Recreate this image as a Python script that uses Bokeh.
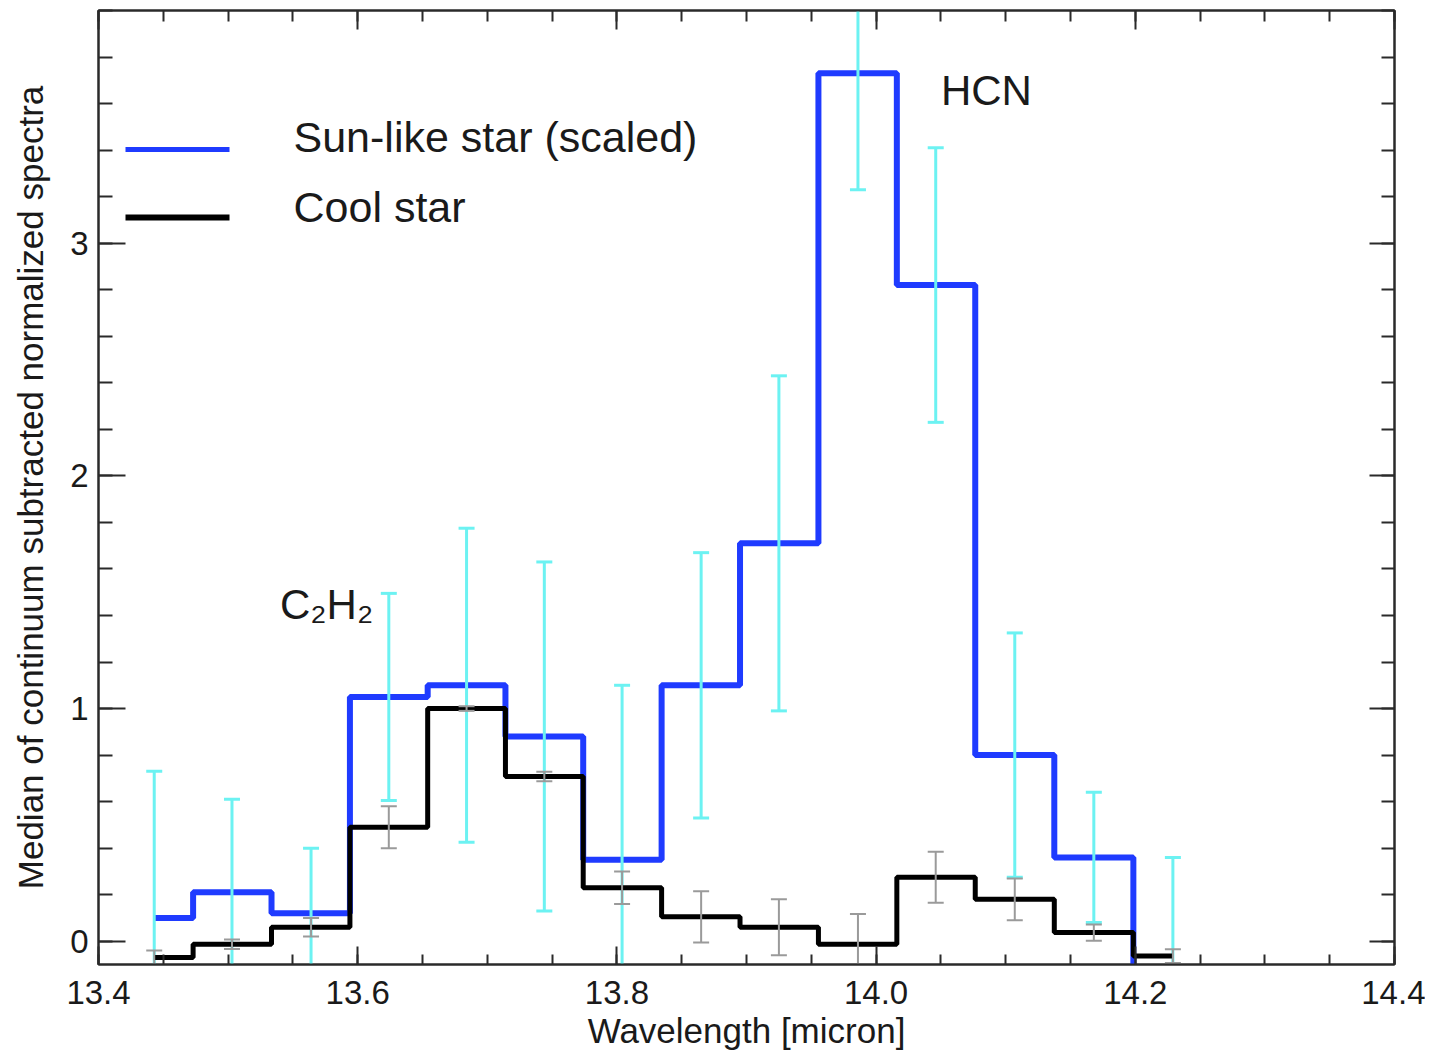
import numpy as np
from bokeh.plotting import figure
from bokeh.models import (FixedTicker, LinearAxis, Range1d, ColumnDataSource,
                          Label, BoxAnnotation)
from bokeh.embed import file_html
from bokeh.resources import INLINE

# ---------------- data ----------------
wavelength = [13.443, 13.503, 13.564, 13.624, 13.684, 13.744, 13.804,
              13.865, 13.925, 13.986, 14.046, 14.107, 14.168, 14.229]
sun_like = [0.10, 0.21, 0.12, 1.05, 1.10, 0.88, 0.35,
            1.10, 1.71, 3.73, 2.82, 0.80, 0.36, -0.15]
sun_like_err = [0.63, 0.40, 0.28, 0.445, 0.675, 0.75, 0.75,
                0.57, 0.72, 0.50, 0.59, 0.525, 0.28, 0.51]
cool_star = [-0.07, -0.013, 0.06, 0.49, 1.00, 0.708, 0.23,
             0.105, 0.06, -0.013, 0.275, 0.18, 0.037, -0.064]
cool_star_err = [0.03, 0.02, 0.04, 0.09, 0.01, 0.02, 0.07,
                 0.11, 0.12, 0.13, 0.11, 0.09, 0.035, 0.03]

x_ticks = [13.4, 13.6, 13.8, 14.0, 14.2, 14.4]
x_tick_labels = ["13.4", "13.6", "13.8", "14.0", "14.2", "14.4"]
y_ticks = [0, 1, 2, 3]
y_tick_labels = ["0", "1", "2", "3"]

series_names = ["Sun-like star (scaled)", "Cool star"]

# ---------------- styles ----------------
BLUE = "#1f3bff"
CYAN = "#6cf2f2"
GRAY = "#9a9a9a"
AX = "#2a2a2a"
TXT = "#1a1a1a"
FONT = "Liberation Sans"

sun = np.array(sun_like)
sun_e = np.array(sun_like_err)
cool = np.array(cool_star)
cool_e = np.array(cool_star_err)

src = ColumnDataSource(dict(
    x=wavelength, sun=sun_like, cool=cool_star,
    sun_lo=list(sun - sun_e), sun_hi=list(sun + sun_e),
    cool_lo=list(cool - cool_e), cool_hi=list(cool + cool_e),
))

p = figure(width=1425, height=1052,
           x_range=Range1d(13.4, 14.4), y_range=Range1d(-0.1, 4.0),
           output_backend="svg", toolbar_location=None,
           min_border_left=98, min_border_top=10,
           min_border_right=31, min_border_bottom=87)
p.grid.visible = False
p.outline_line_color = AX
p.outline_line_width = 2
p.background_fill_color = "white"
p.border_fill_color = "white"

# steps
p.step("x", "sun", source=src, mode="center", line_color=BLUE, line_width=6)
# cyan error bars
p.segment("x", "sun_lo", "x", "sun_hi", source=src, line_color=CYAN,
          line_width=3)
p.scatter("x", "sun_hi", source=src, marker="dash", size=16,
          line_color=CYAN, line_width=3)
p.scatter("x", "sun_lo", source=src, marker="dash", size=16,
          line_color=CYAN, line_width=3)

p.step("x", "cool", source=src, mode="center", line_color="black",
       line_width=5)
# gray error bars
p.segment("x", "cool_lo", "x", "cool_hi", source=src, line_color=GRAY,
          line_width=2)
p.scatter("x", "cool_hi", source=src, marker="dash", size=16,
          line_color=GRAY, line_width=2)
p.scatter("x", "cool_lo", source=src, marker="dash", size=16,
          line_color=GRAY, line_width=2)

# ---------------- axes ----------------
x_minor = list(np.round(np.arange(13.4, 14.4001, 0.05), 3))
y_minor = list(np.round(np.arange(0.0, 4.0001, 0.2), 3))
xt = FixedTicker(ticks=x_ticks, minor_ticks=x_minor)
yt = FixedTicker(ticks=y_ticks, minor_ticks=y_minor)

xa = p.xaxis[0]
xa.ticker = xt
xa.major_label_overrides = {t: s for t, s in zip(x_ticks, x_tick_labels)}
xa.axis_label = "Wavelength [micron]"

ya = p.yaxis[0]
ya.ticker = yt
ya.major_label_overrides = {t: s for t, s in zip(y_ticks, y_tick_labels)}
ya.axis_label = "Median of continuum subtracted normalized spectra"

for ax, maj, mn in ((xa, 18, 10), (ya, 27, 14)):
    ax.major_tick_in = maj
    ax.major_tick_out = 0
    ax.minor_tick_in = mn
    ax.minor_tick_out = 0
    ax.axis_line_color = AX
    ax.axis_line_width = 2
    ax.major_tick_line_color = AX
    ax.minor_tick_line_color = AX
    ax.major_tick_line_width = 2
    ax.minor_tick_line_width = 2
    ax.major_label_text_font = FONT
    ax.major_label_text_font_size = "33px"
    ax.major_label_text_color = TXT
    ax.axis_label_text_font = FONT
    ax.axis_label_text_font_size = "35px"
    ax.axis_label_text_font_style = "normal"
    ax.axis_label_text_color = TXT

xa.major_label_standoff = 16
xa.axis_label_standoff = 4
ya.major_label_standoff = 10
ya.axis_label_standoff = 17

def mirror(ticker, maj, mn):
    return LinearAxis(ticker=ticker, major_tick_in=maj, major_tick_out=0,
                      minor_tick_in=mn, minor_tick_out=0,
                      major_label_text_font_size="1px",
                      major_label_text_color=None, major_label_standoff=0,
                      axis_line_color=AX, axis_line_width=2,
                      major_tick_line_color=AX, minor_tick_line_color=AX,
                      major_tick_line_width=2, minor_tick_line_width=2)

p.add_layout(mirror(xt, 19, 11), "above")
p.add_layout(mirror(yt, 25, 13), "right")

# ---------------- legend (drawn in screen units relative to the frame) ----
legend_colors = [BLUE, "black"]
legend_widths = [5, 6]
legend_line_y = [815, 747]
legend_text_y = [828, 758]
for name, col, lw, ly, ty in zip(series_names, legend_colors, legend_widths,
                                 legend_line_y, legend_text_y):
    p.add_layout(BoxAnnotation(left=27, right=131, bottom=ly - lw / 2,
                               top=ly + lw / 2, left_units="screen",
                               right_units="screen", bottom_units="screen",
                               top_units="screen", fill_color=col,
                               fill_alpha=1, line_color=None,
                               level="annotation"))
    p.add_layout(Label(x=195, y=ty, x_units="screen", y_units="screen",
                       text=name, text_font=FONT, text_font_size="43px",
                       text_color=TXT, text_baseline="middle"))

# ---------------- annotations ----------------
p.add_layout(Label(x=14.05, y=3.657, text="HCN", text_font=FONT,
                   text_font_size="42px", text_color=TXT,
                   text_baseline="middle"))
p.add_layout(Label(x=13.54, y=1.446, text="C\u2082H\u2082", text_font=FONT,
                   text_font_size="42px", text_color=TXT,
                   text_baseline="middle"))

open("out.html", "w").write(file_html(p, INLINE))
